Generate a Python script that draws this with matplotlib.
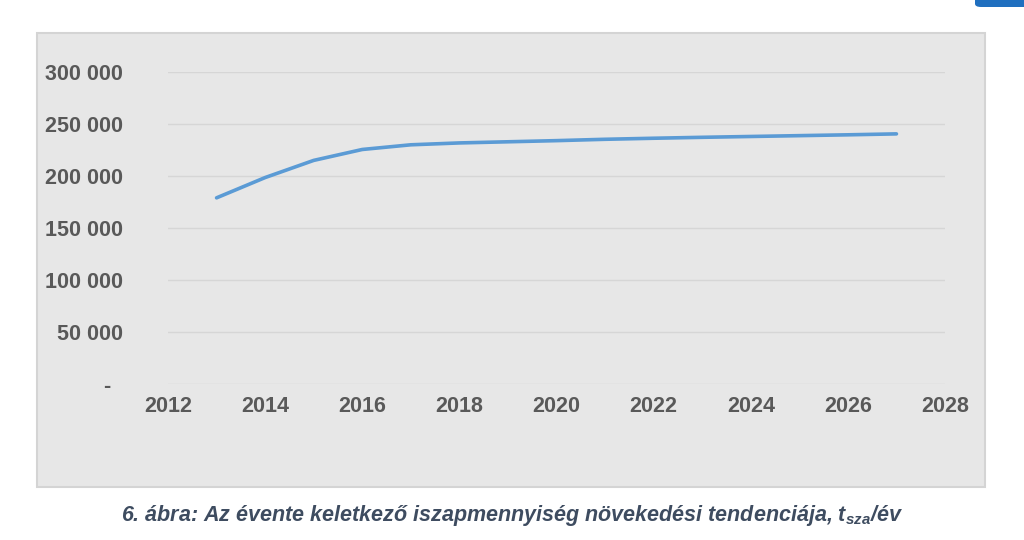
import matplotlib.pyplot as plt
from matplotlib.patches import Rectangle, FancyBboxPatch
from matplotlib.ticker import FuncFormatter

W, H = 1024, 540

# data (tonnes of sludge per year)
years = [2013, 2014, 2015, 2016, 2017, 2018, 2019, 2020,
         2021, 2022, 2023, 2024, 2025, 2026, 2027]
sludge = [179000, 198500, 215000, 225500, 230000, 231800, 232900, 234000,
          235300, 236300, 237200, 238000, 238800, 239600, 240500]
x_ticks = [2012, 2014, 2016, 2018, 2020, 2022, 2024, 2026, 2028]
y_ticks = [0, 50000, 100000, 150000, 200000, 250000, 300000]
caption = "6. ábra: Az évente keletkező iszapmennyiség növekedési tendenciája, t$_{\\mathregular{sza}}$/év"

LABEL_COLOR = "#595959"
LINE_COLOR = "#5b9bd5"
plt.rcParams["font.family"] = ["Liberation Sans", "DejaVu Sans"]

fig = plt.figure(figsize=(W / 100, H / 100), dpi=100)
fig.patch.set_facecolor("white")

# grey chart frame
fig.patches.append(Rectangle((37 / W, 1 - 487 / H), (985 - 37) / W, (487 - 33) / H,
                             transform=fig.transFigure, facecolor="#e7e7e7",
                             edgecolor="#d4d4d4", linewidth=1.5, zorder=-2))
# blue tab at the top right corner
fig.patches.append(FancyBboxPatch((975 / W, 1 - 7 / H), 60 / W, 20 / H,
                                  boxstyle="round,pad=0,rounding_size=0.006",
                                  transform=fig.transFigure, facecolor="#1f6fbf",
                                  edgecolor="none", zorder=-1))

ax = fig.add_axes([168 / W, 1 - 384 / H, (945 - 168) / W, (384 - 72) / H])
ax.set_zorder(2)
ax.set_facecolor("none")
ax.plot(years, sludge, color=LINE_COLOR, linewidth=2.6,
        solid_capstyle="round", solid_joinstyle="round", zorder=3)

ax.set_xlim(2012, 2028)
ax.set_ylim(0, 300000)
ax.set_xticks(x_ticks)
ax.set_yticks(y_ticks)


def fmt_y(v, pos):
    # accounting style: zero shown as a dash
    if v == 0:
        return "-  "
    return f"{int(v):,}".replace(",", " ")


ax.yaxis.set_major_formatter(FuncFormatter(fmt_y))
ax.grid(axis="y", color="#d6d6d6", linewidth=1)
ax.set_axisbelow(True)
for s in ax.spines.values():
    s.set_visible(False)
ax.tick_params(length=0, labelcolor=LABEL_COLOR, labelsize=15.5)
ax.tick_params(axis="y", pad=32.5)
ax.tick_params(axis="x", pad=8.5)
for lab in ax.get_xticklabels() + ax.get_yticklabels():
    lab.set_fontweight("bold")

fig.text(512 / W, 1 - 515 / H, caption, ha="center", va="center",
         fontsize=15.5, fontweight="bold", fontstyle="italic", color="#3e4c60")

fig.savefig("out.png", dpi=100)
